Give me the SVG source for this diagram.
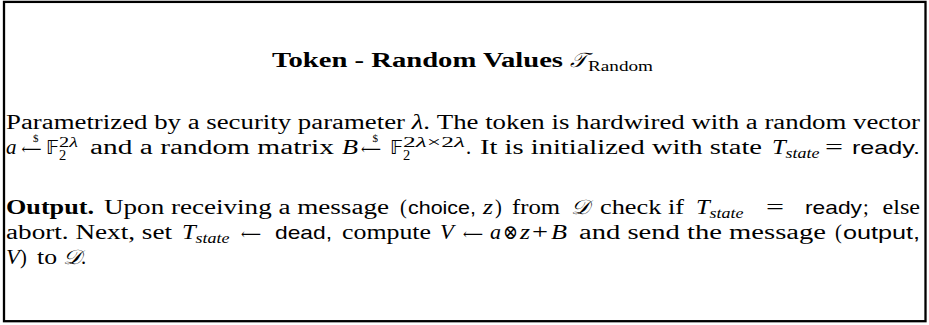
<svg xmlns="http://www.w3.org/2000/svg" width="929" height="325" viewBox="0 0 929 325">
  <style>
    text { font-family: "Liberation Serif", "DejaVu Serif", serif; font-size: 20.5px; fill: #000; }
    .i { font-style: italic; }
    .b { font-weight: bold; }
    .sf { font-family: "Liberation Sans", "DejaVu Sans", sans-serif; font-size: 18.5px; }
    .bb { font-family: "DejaVu Sans", "DejaVu Serif", sans-serif; font-size: 19px; }
    .cal { font-family: "DejaVu Serif", "Noto Sans", serif; font-style: italic; }
    .arr { font-family: "DejaVu Serif", "DejaVu Sans", serif; font-size: 15px; }
    .sc { font-size: 14.5px; }
    .dollar { font-size: 11px; }
    .frame { fill: none; stroke: #000; stroke-width: 2.3; }
  </style>

  <g id="token-box">
    <rect class="frame" x="4" y="1.9" width="921.5" height="319.3"/>

    <!-- heading -->
    <g id="title">
      <text class="b" x="272" y="67" textLength="291" lengthAdjust="spacingAndGlyphs">Token - Random Values</text>
      <text class="cal" x="570" y="67" textLength="17" lengthAdjust="spacingAndGlyphs">𝒯</text>
      <text class="sc" x="588" y="70.5" textLength="65" lengthAdjust="spacingAndGlyphs">Random</text>
    </g>

    <!-- first paragraph -->
    <g id="params">
      <text x="6" y="129" textLength="914" lengthAdjust="spacingAndGlyphs">Parametrized by a security parameter <tspan class="i">λ</tspan>. The token is hardwired with a random vector</text>

      <text class="i" x="6" y="154" textLength="10.5" lengthAdjust="spacingAndGlyphs">a</text>
      <text class="arr" x="21.5" y="154" textLength="20" lengthAdjust="spacingAndGlyphs">⟵</text>
      <text class="dollar" x="33" y="141.5">$</text>
      <text class="bb" x="46" y="154" textLength="13" lengthAdjust="spacingAndGlyphs">𝔽</text>
      <text class="sc" x="59" y="146.5" textLength="19" lengthAdjust="spacingAndGlyphs">2<tspan class="i">λ</tspan></text>
      <text class="sc" x="59" y="159.5">2</text>
      <text x="90" y="154" textLength="244" lengthAdjust="spacingAndGlyphs">and a random matrix</text>
      <text class="i" x="342" y="154" textLength="16" lengthAdjust="spacingAndGlyphs">B</text>
      <text class="arr" x="361" y="154" textLength="20" lengthAdjust="spacingAndGlyphs">⟵</text>
      <text class="dollar" x="372.5" y="141.5">$</text>
      <text class="bb" x="390" y="154" textLength="13" lengthAdjust="spacingAndGlyphs">𝔽</text>
      <text class="sc" x="403" y="146.5" textLength="62" lengthAdjust="spacingAndGlyphs">2<tspan class="i">λ</tspan>×2<tspan class="i">λ</tspan></text>
      <text class="sc" x="403" y="159.5">2</text>
      <text x="466" y="154">.</text>
      <text x="480" y="154" textLength="282" lengthAdjust="spacingAndGlyphs">It is initialized with state</text>
      <text class="i" x="772" y="154" textLength="13.8" lengthAdjust="spacingAndGlyphs">T</text>
      <text class="sc i" x="785.5" y="157.5" textLength="34" lengthAdjust="spacingAndGlyphs">state</text>
      <text x="825" y="154" textLength="18" lengthAdjust="spacingAndGlyphs">=</text>
      <text class="sf" x="852" y="154" textLength="68" lengthAdjust="spacingAndGlyphs">ready.</text>
    </g>

    <!-- output rule -->
    <g id="output-rule">
      <text class="b" x="6" y="214" textLength="88" lengthAdjust="spacingAndGlyphs">Output.</text>
      <text x="104" y="214" textLength="285" lengthAdjust="spacingAndGlyphs">Upon receiving a message</text>
      <text x="400" y="214">(</text>
      <text class="sf" x="408" y="214" textLength="68" lengthAdjust="spacingAndGlyphs">choice,</text>
      <text class="i" x="483" y="214" textLength="10" lengthAdjust="spacingAndGlyphs">z</text>
      <text x="495" y="214">)</text>
      <text x="512" y="214" textLength="48" lengthAdjust="spacingAndGlyphs">from</text>
      <text class="cal" x="571" y="214" textLength="18" lengthAdjust="spacingAndGlyphs">𝒟</text>
      <text x="600" y="214" textLength="84" lengthAdjust="spacingAndGlyphs">check if</text>
      <text class="i" x="696" y="214" textLength="13.8" lengthAdjust="spacingAndGlyphs">T</text>
      <text class="sc i" x="709.5" y="217.5" textLength="34" lengthAdjust="spacingAndGlyphs">state</text>
      <text x="766" y="214" textLength="18" lengthAdjust="spacingAndGlyphs">=</text>
      <text class="sf" x="805" y="214" textLength="57" lengthAdjust="spacingAndGlyphs">ready</text>
      <text x="863" y="214">;</text>
      <text x="882.5" y="214" textLength="37.5" lengthAdjust="spacingAndGlyphs">else</text>

      <text x="6" y="239" textLength="166" lengthAdjust="spacingAndGlyphs">abort. Next, set</text>
      <text class="i" x="182" y="239" textLength="13.8" lengthAdjust="spacingAndGlyphs">T</text>
      <text class="sc i" x="195.5" y="242.5" textLength="34" lengthAdjust="spacingAndGlyphs">state</text>
      <text class="arr" x="241" y="239" textLength="20" lengthAdjust="spacingAndGlyphs">⟵</text>
      <text class="sf" x="275" y="239" textLength="57" lengthAdjust="spacingAndGlyphs">dead,</text>
      <text x="342" y="239" textLength="89" lengthAdjust="spacingAndGlyphs">compute</text>
      <text class="i" x="440" y="239" textLength="13.8" lengthAdjust="spacingAndGlyphs">V</text>
      <text class="arr" x="463" y="239" textLength="20" lengthAdjust="spacingAndGlyphs">⟵</text>
      <text class="i" x="490" y="239" textLength="11" lengthAdjust="spacingAndGlyphs">a</text>
      <text x="503" y="239" textLength="15" lengthAdjust="spacingAndGlyphs">⊗</text>
      <text class="i" x="520" y="239" textLength="10" lengthAdjust="spacingAndGlyphs">z</text>
      <text x="532" y="239" textLength="16" lengthAdjust="spacingAndGlyphs">+</text>
      <text class="i" x="551" y="239" textLength="16" lengthAdjust="spacingAndGlyphs">B</text>
      <text x="579" y="239" textLength="247" lengthAdjust="spacingAndGlyphs">and send the message</text>
      <text x="835" y="239">(</text>
      <text class="sf" x="843" y="239" textLength="77" lengthAdjust="spacingAndGlyphs">output,</text>

      <text class="i" x="6" y="263.5" textLength="13.8" lengthAdjust="spacingAndGlyphs">V</text>
      <text x="20" y="263.5">)</text>
      <text x="37" y="263.5" textLength="20" lengthAdjust="spacingAndGlyphs">to</text>
      <text class="cal" x="63" y="263.5" textLength="18" lengthAdjust="spacingAndGlyphs">𝒟</text>
      <text x="81" y="263.5">.</text>
    </g>
  </g>
</svg>
